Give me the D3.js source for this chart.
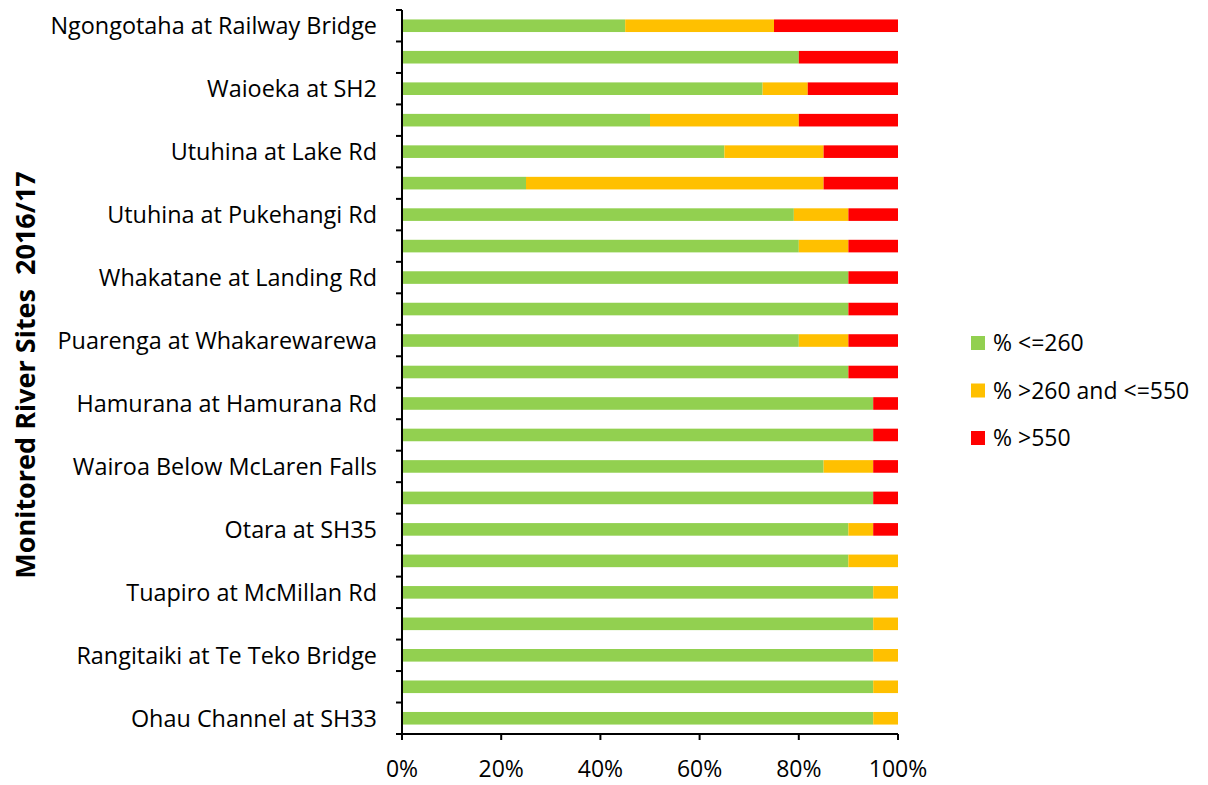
<!DOCTYPE html>
<html><head><meta charset="utf-8">
<script src="https://cdn.jsdelivr.net/npm/d3@7"></script>
<style>body{margin:0;background:#fff}svg{display:block}text{font-family:"Open Sans",sans-serif;fill:#000}</style>
</head><body><svg id="c" width="1208" height="785"></svg>
<script>
// Site labels (only every other site is labelled on the axis in the original)
const sites = [
  "Ngongotaha at Railway Bridge", "", "Waioeka at SH2", "", "Utuhina at Lake Rd", "",
  "Utuhina at Pukehangi Rd", "", "Whakatane at Landing Rd", "", "Puarenga at Whakarewarewa", "",
  "Hamurana at Hamurana Rd", "", "Wairoa Below McLaren Falls", "", "Otara at SH35", "",
  "Tuapiro at McMillan Rd", "", "Rangitaiki at Te Teko Bridge", "", "Ohau Channel at SH33"
];
const pctLow  = [45, 80, 72.7, 50, 65, 25, 79, 80, 90, 90, 80, 90, 95, 95, 85, 95, 90, 90, 95, 95, 95, 95, 95];
const pctMid  = [30, 0, 9.1, 30, 20, 60, 11, 10, 0, 0, 10, 0, 0, 0, 10, 0, 5, 10, 5, 5, 5, 5, 5];
const pctHigh = [25, 20, 18.2, 20, 15, 15, 10, 10, 10, 10, 10, 10, 5, 5, 5, 5, 5, 0, 0, 0, 0, 0, 0];
const seriesNames = ["% <=260", "% >260 and <=550", "% >550"];
const seriesColors = ["#92D050", "#FFC000", "#FF0000"];
const xTicks = [0, 20, 40, 60, 80, 100];
const yTitle = "Monitored River Sites  2016/17";

const svg = d3.select("#c");
const L = 402, R = 898, T = 10, B = 734;
const ids = sites.map((_, i) => i);
const y = d3.scaleBand().domain(ids).range([T, B]).paddingInner(0.6).paddingOuter(0.3);
const x = d3.scaleLinear().domain([0, 100]).range([L, R]);

const rows = ids.map(i => ({i, v: [pctLow[i], pctMid[i], pctHigh[i]]}));
const stack = d3.stack().keys([0, 1, 2]).value((d, k) => d.v[k]);
const layers = stack(rows);

svg.append("g").selectAll("g").data(layers).join("g")
  .attr("fill", (d, k) => seriesColors[k])
  .selectAll("rect").data(d => d).join("rect")
  .attr("x", d => x(d[0]))
  .attr("width", d => Math.max(0, x(d[1]) - x(d[0])))
  .attr("y", d => y(d.data.i))
  .attr("height", y.bandwidth());

// Y axis
const yAxisG = svg.append("g");
yAxisG.append("line").attr("x1", L).attr("x2", L).attr("y1", T).attr("y2", B)
  .attr("stroke", "#000").attr("stroke-width", 2);
d3.range(sites.length + 1).forEach(k => {
  const yy = T + k * (B - T) / sites.length;
  yAxisG.append("line").attr("x1", L - 6).attr("x2", L).attr("y1", yy).attr("y2", yy)
    .attr("stroke", "#000").attr("stroke-width", 2);
});
yAxisG.selectAll("text.lab").data(ids.filter(i => sites[i] !== "")).join("text")
  .attr("class", "lab")
  .attr("x", 377).attr("y", i => y(i) + y.bandwidth() / 2)
  .attr("dy", "0.36em").attr("text-anchor", "end")
  .style("font-size", "23.4px")
  .text(i => sites[i]);

// X axis
const xAxisG = svg.append("g");
xAxisG.append("line").attr("x1", L).attr("x2", R).attr("y1", B).attr("y2", B)
  .attr("stroke", "#000").attr("stroke-width", 2);
xTicks.forEach(t => {
  xAxisG.append("line").attr("x1", x(t)).attr("x2", x(t)).attr("y1", B).attr("y2", B + 6)
    .attr("stroke", "#000").attr("stroke-width", 2);
  xAxisG.append("text").attr("x", x(t)).attr("y", 777).attr("text-anchor", "middle")
    .style("font-size", "23px").text(t + "%");
});

// Y title
svg.append("text")
  .attr("transform", "translate(35,375) rotate(-90)")
  .attr("text-anchor", "middle")
  .style("font-size", "27px").style("font-weight", "bold").style("white-space", "pre")
  .text(yTitle);

// Legend
const lg = svg.append("g");
seriesNames.forEach((n, k) => {
  const yy = 343 + k * 47.5;
  lg.append("rect").attr("x", 971).attr("y", yy - 7).attr("width", 14).attr("height", 14)
    .attr("fill", seriesColors[k]);
  lg.append("text").attr("x", 993).attr("y", yy).attr("dy", "0.36em")
    .style("font-size", "23px").text(n);
});
</script></body></html>
